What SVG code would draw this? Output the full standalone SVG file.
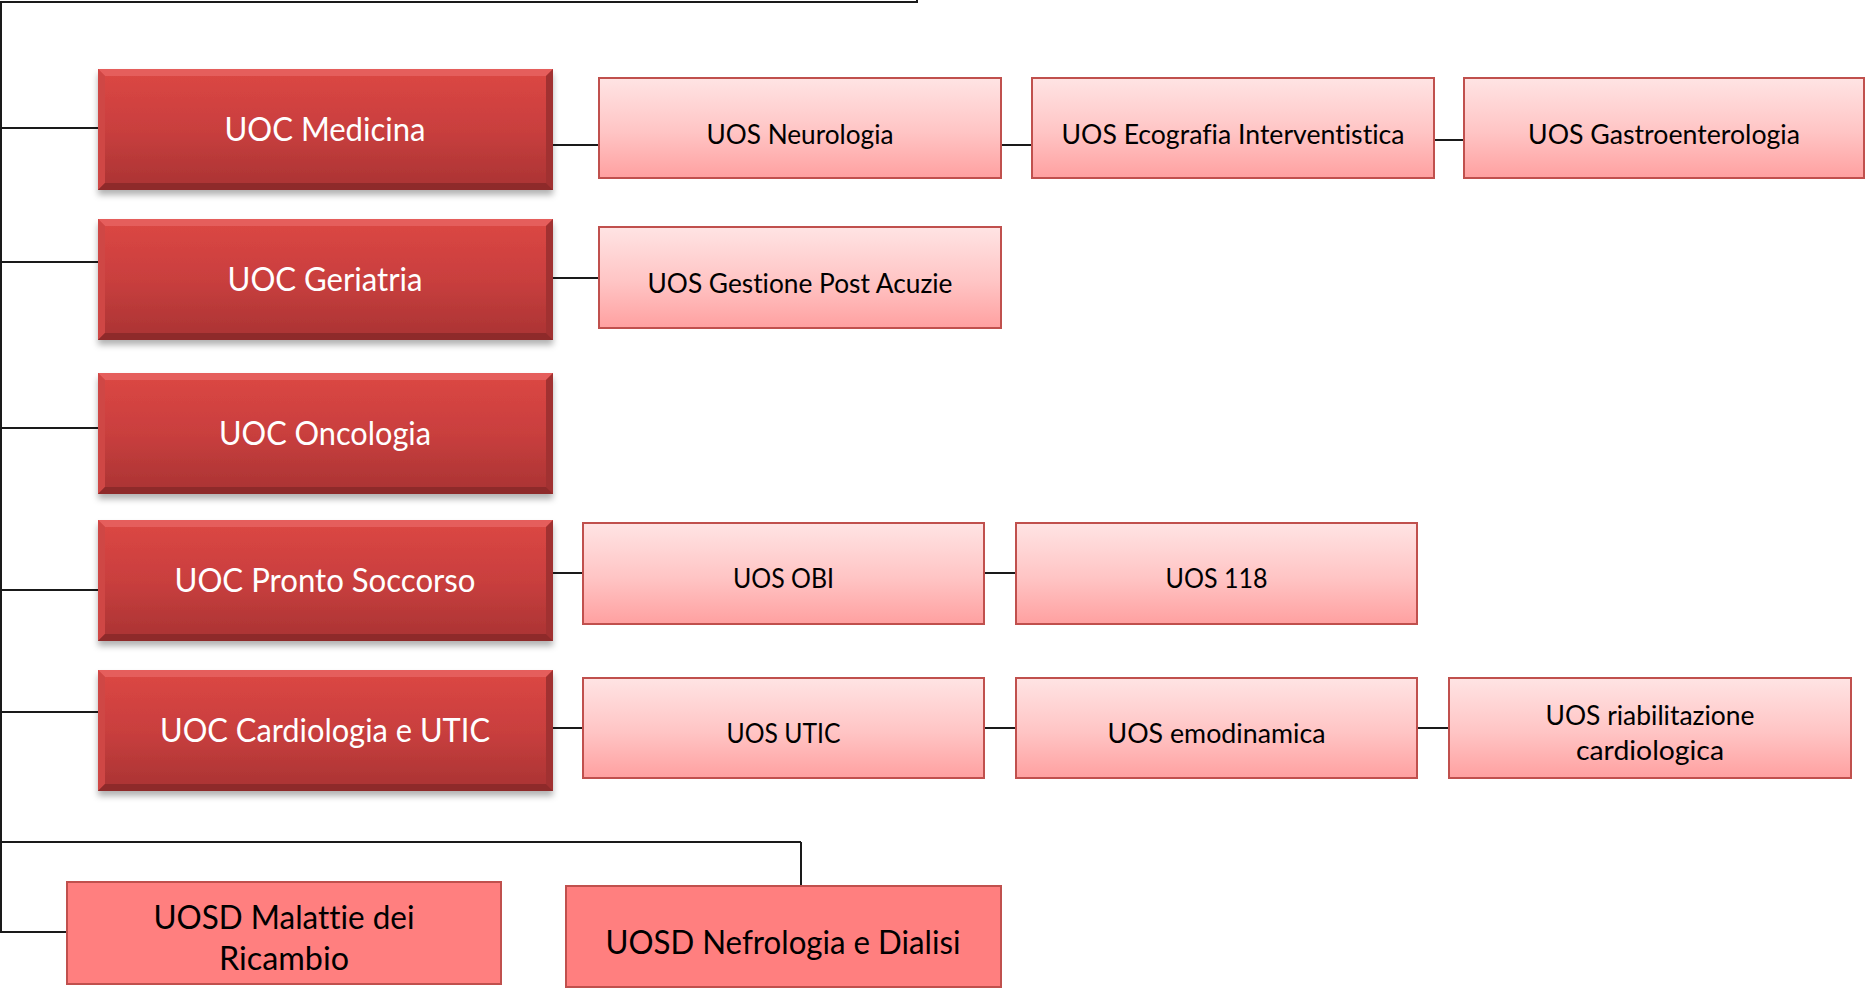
<svg xmlns="http://www.w3.org/2000/svg" xmlns:xlink="http://www.w3.org/1999/xlink" width="1865" height="993" viewBox="0 0 1865 993">
<style>
text{font-variant-ligatures:none;font-feature-settings:"liga" 0,"dlig" 0,"clig" 0}
.conn{stroke:#1a1a1a;stroke-width:2;fill:none}
.uoc-t{font-family:Lato,"Open Sans","Liberation Sans",sans-serif;font-size:32px;fill:#ffffff;text-anchor:middle}
.uos{fill:url(#uosGrad);stroke:#c0504d;stroke-width:2}
.uos-t{font-family:Lato,"Open Sans","Liberation Sans",sans-serif;font-size:27px;fill:#000000;text-anchor:middle}
.uosd{fill:#ff7f7f;stroke:#c0504d;stroke-width:2}
.uosd-t{font-family:Lato,"Open Sans","Liberation Sans",sans-serif;font-size:32px;fill:#000000;text-anchor:middle}
</style>
<defs>
<linearGradient id="uocGrad" x1="0" y1="0" x2="0" y2="1">
<stop offset="0" stop-color="#dc4744"/>
<stop offset="0.5" stop-color="#c93f3e"/>
<stop offset="1" stop-color="#a93333"/>
</linearGradient>
<linearGradient id="uosGrad" x1="0" y1="0" x2="0" y2="1">
<stop offset="0" stop-color="#ffe4e4"/>
<stop offset="0.55" stop-color="#ffc4c4"/>
<stop offset="1" stop-color="#ffa0a0"/>
</linearGradient>
<filter id="shadow" x="-5%" y="-10%" width="110%" height="130%">
<feDropShadow dx="0" dy="5" stdDeviation="3" flood-color="#000000" flood-opacity="0.3"/>
</filter>
<g id="uocShape">
<rect x="0" y="0" width="455" height="121" fill="url(#uocGrad)" filter="url(#shadow)"/>
<polygon points="0,0 455,0 448,7 7,7" fill="#e55e5c"/>
<polygon points="0,0 7,7 7,114 0,121" fill="#cf4745"/>
<polygon points="455,0 455,121 448,114 448,7" fill="#a13131"/>
<polygon points="0,121 455,121 448,114 7,114" fill="#8e2a2a"/>
</g>
</defs>
<rect width="1865" height="993" fill="#ffffff"/>

<g id="connectors">
<path class="conn" d="M917,-2 V2 H1 V932 H67"/>
<path class="conn" d="M1,128 H98 M1,262 H98 M1,428 H98 M1,590 H98 M1,712 H98"/>
<path class="conn" d="M1,842 H801 M801,842 V886"/>
<path class="conn" d="M553,145 H599 M1001,145 H1032 M1434,140 H1464"/>
<path class="conn" d="M553,278 H599"/>
<path class="conn" d="M553,573 H583 M984,573 H1016"/>
<path class="conn" d="M553,728 H583 M984,728 H1016 M1417,728 H1449"/>
</g>

<g id="uoc-medicina">
<use xlink:href="#uocShape" x="98" y="69"/>
<text class="uoc-t" x="325" y="141" textLength="201" lengthAdjust="spacingAndGlyphs">UOC Medicina</text>
</g>
<g id="uoc-geriatria">
<use xlink:href="#uocShape" x="98" y="219"/>
<text class="uoc-t" x="325" y="291" textLength="195" lengthAdjust="spacingAndGlyphs">UOC Geriatria</text>
</g>
<g id="uoc-oncologia">
<use xlink:href="#uocShape" x="98" y="373"/>
<text class="uoc-t" x="325" y="445" textLength="212" lengthAdjust="spacingAndGlyphs">UOC Oncologia</text>
</g>
<g id="uoc-pronto-soccorso">
<use xlink:href="#uocShape" x="98" y="520"/>
<text class="uoc-t" x="325" y="592" textLength="301" lengthAdjust="spacingAndGlyphs">UOC Pronto Soccorso</text>
</g>
<g id="uoc-cardiologia">
<use xlink:href="#uocShape" x="98" y="670"/>
<text class="uoc-t" x="325" y="742" textLength="330" lengthAdjust="spacingAndGlyphs">UOC Cardiologia e UTIC</text>
</g>

<g id="uos-neurologia">
<rect class="uos" x="599" y="78" width="402" height="100"/>
<text class="uos-t" x="800" y="144" textLength="187" lengthAdjust="spacingAndGlyphs">UOS Neurologia</text>
</g>
<g id="uos-ecografia">
<rect class="uos" x="1032" y="78" width="402" height="100"/>
<text class="uos-t" x="1233" y="144" textLength="343" lengthAdjust="spacingAndGlyphs">UOS Ecografia Interventistica</text>
</g>
<g id="uos-gastroenterologia">
<rect class="uos" x="1464" y="78" width="400" height="100"/>
<text class="uos-t" x="1664" y="144" textLength="272" lengthAdjust="spacingAndGlyphs">UOS Gastroenterologia</text>
</g>
<g id="uos-gestione-post-acuzie">
<rect class="uos" x="599" y="227" width="402" height="101"/>
<text class="uos-t" x="800" y="293" textLength="305" lengthAdjust="spacingAndGlyphs">UOS Gestione Post Acuzie</text>
</g>
<g id="uos-obi">
<rect class="uos" x="583" y="523" width="401" height="101"/>
<text class="uos-t" x="783.5" y="588" textLength="101" lengthAdjust="spacingAndGlyphs">UOS OBI</text>
</g>
<g id="uos-118">
<rect class="uos" x="1016" y="523" width="401" height="101"/>
<text class="uos-t" x="1216.5" y="588" textLength="102" lengthAdjust="spacingAndGlyphs">UOS 118</text>
</g>
<g id="uos-utic">
<rect class="uos" x="583" y="678" width="401" height="100"/>
<text class="uos-t" x="783.5" y="743" textLength="114" lengthAdjust="spacingAndGlyphs">UOS UTIC</text>
</g>
<g id="uos-emodinamica">
<rect class="uos" x="1016" y="678" width="401" height="100"/>
<text class="uos-t" x="1216.5" y="743" textLength="218" lengthAdjust="spacingAndGlyphs">UOS emodinamica</text>
</g>
<g id="uos-riabilitazione">
<rect class="uos" x="1449" y="678" width="402" height="100"/>
<text class="uos-t" x="1650" y="725" textLength="209" lengthAdjust="spacingAndGlyphs">UOS riabilitazione</text>
<text class="uos-t" x="1650" y="760" textLength="148" lengthAdjust="spacingAndGlyphs">cardiologica</text>
</g>

<g id="uosd-malattie">
<rect class="uosd" x="67" y="882" width="434" height="102"/>
<text class="uosd-t" x="284" y="929" textLength="261" lengthAdjust="spacingAndGlyphs">UOSD Malattie dei</text>
<text class="uosd-t" x="284" y="970" textLength="130" lengthAdjust="spacingAndGlyphs">Ricambio</text>
</g>
<g id="uosd-nefrologia">
<rect class="uosd" x="566" y="886" width="435" height="101"/>
<text class="uosd-t" x="783" y="954" textLength="355" lengthAdjust="spacingAndGlyphs">UOSD Nefrologia e Dialisi</text>
</g>
</svg>
